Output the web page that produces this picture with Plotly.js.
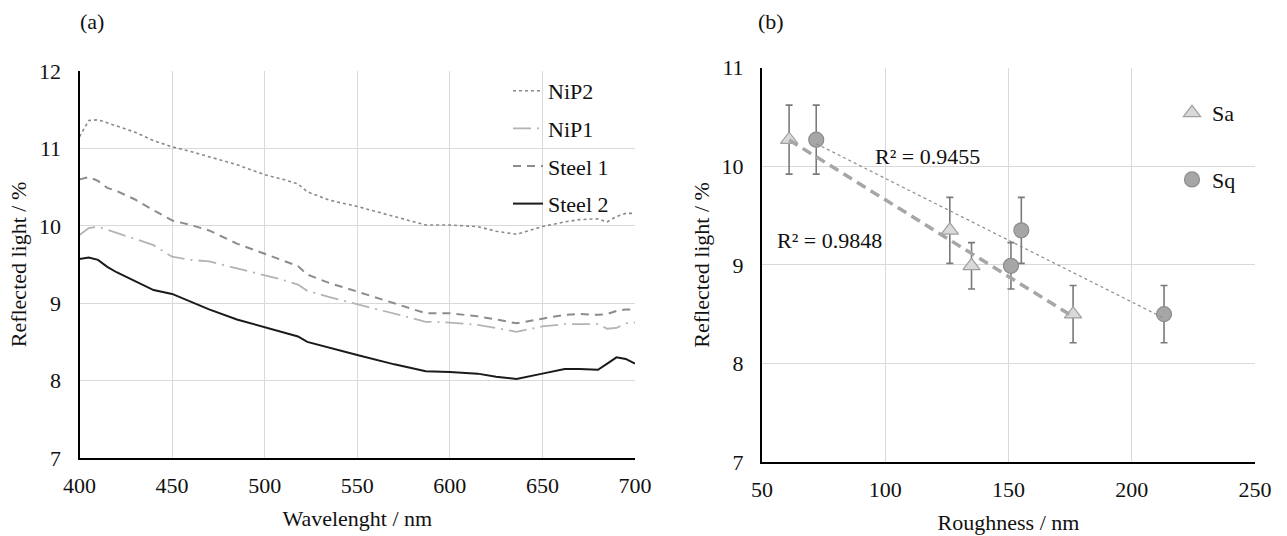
<!DOCTYPE html>
<html>
<head>
<meta charset="utf-8">
<script src="https://cdn.plot.ly/plotly-3.0.1.min.js"></script>
<style>html,body{margin:0;padding:0;background:#fff;}#chart{width:1287px;height:536px;}</style>
</head>
<body>
<div id="chart"></div>
<script>
// ---- Panel (a): reflected light vs wavelength ----
const wavelength = [400,405,410,415,420,430,440,450,460,470,485,500,510,518,523,535,550,570,587,600,615,625,636,650,662,670,680,685,690,695,700];
const nip2   = [11.15,11.36,11.37,11.33,11.28,11.21,11.10,11.02,10.96,10.89,10.79,10.66,10.60,10.54,10.44,10.33,10.25,10.12,10.01,10.01,9.99,9.93,9.89,9.99,10.05,10.08,10.09,10.05,10.12,10.16,10.16];
const nip1   = [9.88,9.97,9.99,9.95,9.91,9.83,9.75,9.60,9.56,9.54,9.45,9.36,9.30,9.24,9.16,9.08,8.99,8.87,8.76,8.75,8.72,8.68,8.63,8.70,8.73,8.73,8.73,8.67,8.68,8.74,8.75];
const steel1 = [10.60,10.63,10.58,10.49,10.45,10.34,10.20,10.07,10.01,9.94,9.77,9.64,9.55,9.48,9.37,9.26,9.15,9.00,8.87,8.87,8.83,8.79,8.74,8.80,8.85,8.86,8.85,8.86,8.90,8.92,8.92];
const steel2 = [9.57,9.59,9.56,9.47,9.40,9.29,9.17,9.12,9.02,8.92,8.79,8.69,8.63,8.57,8.50,8.42,8.33,8.21,8.12,8.11,8.09,8.05,8.02,8.09,8.15,8.15,8.14,8.22,8.30,8.28,8.22];
const seriesNames = ["NiP2","NiP1","Steel 1","Steel 2"];

// ---- Panel (b): reflected light vs roughness ----
const roughnessSa = [61.0, 126.2, 135.0, 176.2];
const roughnessSq = [72.0, 155.2, 151.0, 213.1];
const reflected   = [10.27, 9.35, 8.99, 8.50];
const reflectedErr = [0.35, 0.335, 0.235, 0.29];
const r2Labels = ["R² = 0.9848", "R² = 0.9455"]; // Sa, Sq

const FONT = "Liberation Serif";
const TXT = "#111111";

function linfit(xs, ys) {
  const n = xs.length;
  const mx = xs.reduce((a,b)=>a+b,0)/n, my = ys.reduce((a,b)=>a+b,0)/n;
  let sxx = 0, sxy = 0;
  for (let i=0;i<n;i++){ sxx += (xs[i]-mx)*(xs[i]-mx); sxy += (xs[i]-mx)*(ys[i]-my); }
  const b = sxy/sxx, a = my - b*mx;
  const x0 = Math.min(...xs), x1 = Math.max(...xs);
  return {x:[x0,x1], y:[a+b*x0, a+b*x1]};
}
const fitSa = linfit(roughnessSa, reflected);
const fitSq = linfit(roughnessSq, reflected);

const traces = [
  {x: wavelength, y: nip2, name: seriesNames[0], mode:"lines", xaxis:"x", yaxis:"y", legendgroup:"g1",
   line:{color:"#8a8a8a", width:1.6, dash:"dot"}},
  {x: wavelength, y: nip1, name: seriesNames[1], mode:"lines", xaxis:"x", yaxis:"y", legendgroup:"g2",
   line:{color:"#b4b4b4", width:1.8, dash:"18px,6px,2px,6px"}},
  {x: wavelength, y: steel1, name: seriesNames[2], mode:"lines", xaxis:"x", yaxis:"y", legendgroup:"g3",
   line:{color:"#8c8c8c", width:2, dash:"8px,6px"}},
  {x: wavelength, y: steel2, name: seriesNames[3], mode:"lines", xaxis:"x", yaxis:"y", legendgroup:"g4",
   line:{color:"#1a1a1a", width:2}},

  {x: roughnessSa, y: reflected, name:"Sa", mode:"markers", xaxis:"x2", yaxis:"y2", legend:"legend2", legendgroup:"s1",
   marker:{symbol:"triangle-up", size:15, color:"#d9d9d9", line:{color:"#a0a0a0", width:1.2}},
   error_y:{type:"data", array: reflectedErr, visible:true, color:"#7a7a7a", thickness:1.6, width:3.5}},
  {x: roughnessSq, y: reflected, name:"Sq", mode:"markers", xaxis:"x2", yaxis:"y2", legend:"legend2", legendgroup:"s2",
   marker:{symbol:"circle", size:15, color:"#a6a6a6", line:{color:"#8c8c8c", width:1.2}},
   error_y:{type:"data", array: reflectedErr, visible:true, color:"#7a7a7a", thickness:1.6, width:3.5}},
  {x: fitSa.x, y: fitSa.y, mode:"lines", xaxis:"x2", yaxis:"y2", showlegend:false, hoverinfo:"skip",
   line:{color:"#a6a6a6", width:3.5, dash:"10px,6px"}},
  {x: fitSq.x, y: fitSq.y, mode:"lines", xaxis:"x2", yaxis:"y2", showlegend:false, hoverinfo:"skip",
   line:{color:"#8c8c8c", width:1.2, dash:"dot"}}
];

const axisCommon = {
  showgrid:true, gridcolor:"#d9d9d9", gridwidth:1, zeroline:false,
  ticks:"", tickfont:{family:FONT, size:22, color:TXT}, fixedrange:true
};

const layout = {
  width:1287, height:536,
  margin:{l:0, r:0, t:0, b:0},
  paper_bgcolor:"#ffffff", plot_bgcolor:"#ffffff",
  font:{family:FONT, size:22, color:TXT},
  showlegend:true,
  xaxis: Object.assign({}, axisCommon, {
    domain:[79.5/1287, 635/1287], range:[400,700], tickvals:[400,450,500,550,600,650,700],
    showline:true, linecolor:"#000", linewidth:2, anchor:"y", ticklabelstandoff:7,
    title:{text:"Wavelenght / nm", font:{family:FONT, size:22, color:TXT}, standoff:13}
  }),
  yaxis: Object.assign({}, axisCommon, {
    domain:[(536-458)/536, (536-71)/536], range:[7,12], tickvals:[7,8,9,10,11,12],
    showline:true, linecolor:"#000", linewidth:2, anchor:"x", ticklabelstandoff:12,
    title:{text:"Reflected light / %", font:{family:FONT, size:22, color:TXT}, standoff:6}
  }),
  xaxis2: Object.assign({}, axisCommon, {
    domain:[762/1287, 1255/1287], range:[50,250], tickvals:[50,100,150,200,250],
    showline:true, linecolor:"#000", linewidth:2, anchor:"y2", ticklabelstandoff:7,
    title:{text:"Roughness / nm", font:{family:FONT, size:22, color:TXT}, standoff:13}
  }),
  yaxis2: Object.assign({}, axisCommon, {
    domain:[(536-462)/536, (536-67.7)/536], range:[7,11], tickvals:[7,8,9,10,11],
    showline:true, linecolor:"#000", linewidth:2, anchor:"x2", ticklabelstandoff:12,
    title:{text:"Reflected light / %", font:{family:FONT, size:22, color:TXT}, standoff:6}
  }),
  legend:{x:508/1287, y:(536-70)/536, xanchor:"left", yanchor:"top", bgcolor:"rgba(255,255,255,0)",
    font:{family:FONT, size:22, color:TXT}, tracegroupgap:6, itemclick:false, itemdoubleclick:false},
  legend2:{x:1172/1287, y:(536-92)/536, xanchor:"left", yanchor:"top", bgcolor:"rgba(255,255,255,0)",
    font:{family:FONT, size:22, color:TXT}, tracegroupgap:35, itemwidth:30, itemclick:false, itemdoubleclick:false},
  annotations:[
    {text:"(a)", xref:"paper", yref:"paper", x:92/1287, y:(536-21)/536, showarrow:false, xanchor:"center", yanchor:"middle",
     font:{family:FONT, size:22, color:TXT}},
    {text:"(b)", xref:"paper", yref:"paper", x:771/1287, y:(536-21)/536, showarrow:false, xanchor:"center", yanchor:"middle",
     font:{family:FONT, size:22, color:TXT}},
    {text:r2Labels[1], xref:"x2", yref:"y2", x:95.1, y:10.10, showarrow:false, xanchor:"left", yanchor:"middle",
     font:{family:FONT, size:22, color:TXT}},
    {text:r2Labels[0], xref:"x2", yref:"y2", x:55.3, y:9.25, showarrow:false, xanchor:"left", yanchor:"middle",
     font:{family:FONT, size:22, color:TXT}}
  ]
};

Plotly.newPlot("chart", traces, layout, {staticPlot:true, displayModeBar:false});
</script>
</body>
</html>
